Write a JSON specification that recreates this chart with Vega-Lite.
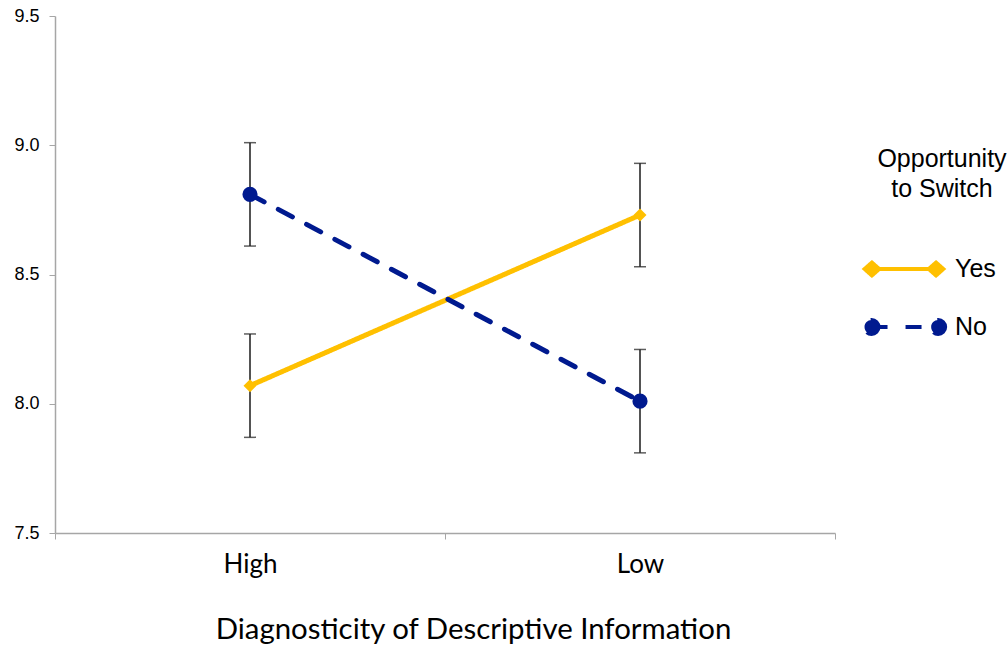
{
  "$schema": "https://vega.github.io/schema/vega-lite/v6.json",
  "width": 780,
  "height": 517,
  "autosize": "none",
  "padding": {"left": 55, "top": 16, "right": 173, "bottom": 112},
  "background": "white",
  "config": {"view": {"stroke": null}},
  "data": {
    "values": [
      {"Diag": "High", "Switch": "Yes", "mean": 8.07, "lo": 7.87, "hi": 8.27},
      {"Diag": "Low", "Switch": "Yes", "mean": 8.73, "lo": 8.53, "hi": 8.93},
      {"Diag": "High", "Switch": "No", "mean": 8.81, "lo": 8.61, "hi": 9.01},
      {"Diag": "Low", "Switch": "No", "mean": 8.01, "lo": 7.81, "hi": 8.21}
    ]
  },
  "encoding": {
    "x": {
      "field": "Diag",
      "type": "nominal",
      "sort": ["High", "Low"],
      "scale": {"type": "band", "paddingInner": 0, "paddingOuter": 0},
      "axis": {
        "title": "Diagnosticity of Descriptive Information",
        "titleFont": "Lato",
        "titleFontSize": 29.4,
        "titleFontWeight": "normal",
        "titleColor": "black",
        "titlePadding": 38,
        "titleX": 418,
        "labelFont": "Lato",
        "labelFontSize": 26,
        "labelColor": "black",
        "labelPadding": 12,
        "labelAngle": 0,
        "tickBand": "extent",
        "tickSize": 6,
        "tickColor": "#A6A6A6",
        "domainColor": "#A6A6A6",
        "domainWidth": 1.5,
        "grid": false
      }
    }
  },
  "layer": [
    {
      "mark": {"type": "rule", "color": "#1a1a1a", "strokeWidth": 1.5},
      "encoding": {
        "y": {"field": "lo", "type": "quantitative"},
        "y2": {"field": "hi"}
      }
    },
    {
      "mark": {"type": "tick", "color": "#1a1a1a", "size": 12, "thickness": 1.5},
      "encoding": {"y": {"field": "lo", "type": "quantitative"}}
    },
    {
      "mark": {"type": "tick", "color": "#1a1a1a", "size": 12, "thickness": 1.5},
      "encoding": {"y": {"field": "hi", "type": "quantitative"}}
    },
    {
      "mark": {"type": "line", "strokeWidth": 5, "strokeCap": "round"},
      "encoding": {
        "y": {
          "field": "mean",
          "type": "quantitative",
          "scale": {"domain": [7.5, 9.5], "nice": false, "zero": false},
          "axis": {
            "title": null,
            "values": [7.5, 8, 8.5, 9, 9.5],
            "format": ".1f",
            "labelFont": "Liberation Sans",
            "labelFontSize": 18,
            "labelColor": "black",
            "labelPadding": 10,
            "tickSize": 6,
            "tickColor": "#A6A6A6",
            "domainColor": "#A6A6A6",
            "domainWidth": 1.5,
            "grid": false
          }
        },
        "color": {
          "field": "Switch",
          "type": "nominal",
          "scale": {"domain": ["Yes", "No"], "range": ["#FFC000", "#001A8F"]},
          "legend": {
            "orient": "none",
            "legendX": 822,
            "legendY": 131,
            "padding": 0,
            "title": ["Opportunity", "to Switch"],
            "titleFont": "Liberation Sans",
            "titleFontSize": 25,
            "titleFontWeight": "normal",
            "titleColor": "black",
            "titleAlign": "center",
            "titleAnchor": "middle",
            "titleLineHeight": 30,
            "titlePadding": 51,
            "labelFont": "Liberation Sans",
            "labelFontSize": 25,
            "labelColor": "black",
            "labelOffset": 35,
            "symbolSize": 784,
            "symbolStrokeWidth": 4,
            "rowPadding": 27,
            "encode": {
              "symbols": {
                "update": {
                  "shape": {"signal": "datum.value === 'Yes' ? 'M-2.29,0L2.29,0M-2.81,0L-2.29,-0.46L-1.77,0L-2.29,0.46ZM1.77,0L2.29,-0.46L2.81,0L2.29,0.46Z' : 'M-2.32,0L-1.06,0M0.11,0L2.44,0M-1.82,0A0.5,0.5,0,1,1,-2.82,0A0.5,0.5,0,1,1,-1.82,0ZM2.94,0A0.5,0.5,0,1,1,1.94,0A0.5,0.5,0,1,1,2.94,0Z'"},
                  "fill": {"scale": "color", "field": "value"},
                  "stroke": {"scale": "color", "field": "value"},
                  "strokeDash": {"value": []},
                  "strokeWidth": {"value": 4},
                  "opacity": {"value": 1},
                  "fillOpacity": {"value": 1}
                }
              }
            }
          }
        },
        "strokeDash": {
          "field": "Switch",
          "type": "nominal",
          "scale": {"domain": ["Yes", "No"], "range": [[1, 0], [16, 16]]},
          "legend": null
        }
      }
    },
    {
      "transform": [{"filter": "datum.Switch === 'Yes'"}],
      "mark": {"type": "point", "filled": true, "opacity": 1, "shape": "diamond", "size": 170, "color": "#FFC000"},
      "encoding": {
        "y": {"field": "mean", "type": "quantitative"}
      }
    },
    {
      "transform": [{"filter": "datum.Switch === 'No'"}],
      "mark": {"type": "point", "filled": true, "opacity": 1, "shape": "circle", "size": 230, "color": "#001A8F"},
      "encoding": {
        "y": {"field": "mean", "type": "quantitative"}
      }
    }
  ]
}
